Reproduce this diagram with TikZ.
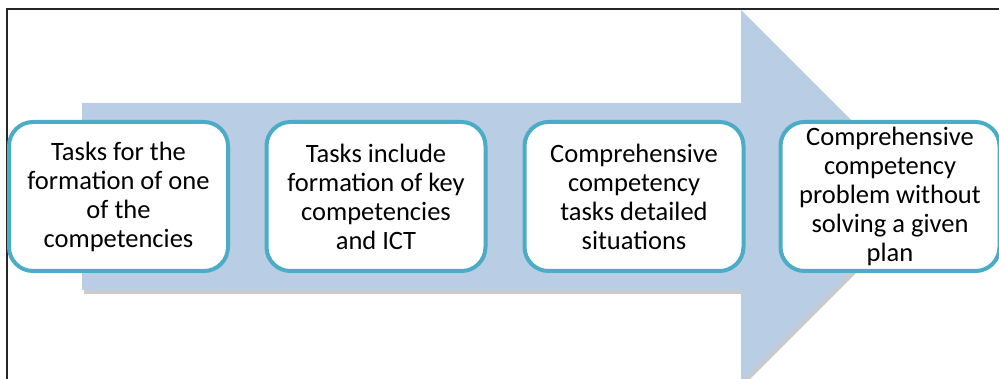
\documentclass[tikz,border=0pt]{standalone}
\usepackage{fontspec}
\setmainfont{Carlito}
\usetikzlibrary{shadows}
\definecolor{arrowblue}{RGB}{185,205,229}
\definecolor{boxteal}{RGB}{75,172,198}
\tikzset{
  stage/.style={draw=boxteal, line width=4pt, fill=white, rounded corners=24pt,
    minimum width=219pt, minimum height=149pt, inner sep=0pt, align=center,
    font=\fontsize{26.5pt}{29pt}\selectfont, text=black},
  frameline/.style={draw=black!85, line width=1.6pt},
}
\begin{document}
\begin{tikzpicture}[x=1pt, y=-1pt]
\useasboundingbox (0,0) rectangle (999,379);
\begin{scope}
\clip (0,0) rectangle (999,379);
% big arrow
\fill[arrowblue, drop shadow={shadow xshift=2pt, shadow yshift=-4pt, opacity=0.35, fill=black!60}]
  (82,103) -- (741,103) -- (741,10) -- (927,196) -- (741,382) -- (741,290) -- (82,290) -- cycle;
% frame
\draw[frameline] (1010,9) -- (7,9) -- (7,390);
\end{scope}
% stages
\node[stage] (s1) at (118.5,196.5) {Tasks for the\\formation of one\\of the\\competencies};
\node[stage] (s2) at (376,196.5) {Tasks include\\formation of key\\competencies\\and ICT};
\node[stage] (s3) at (634,196.5) {Comprehensive\\competency\\tasks detailed\\situations};
\node[stage] (s4) at (890,196.5) {Comprehensive\\competency\\problem without\\solving a given\\plan};
\end{tikzpicture}
\end{document}
